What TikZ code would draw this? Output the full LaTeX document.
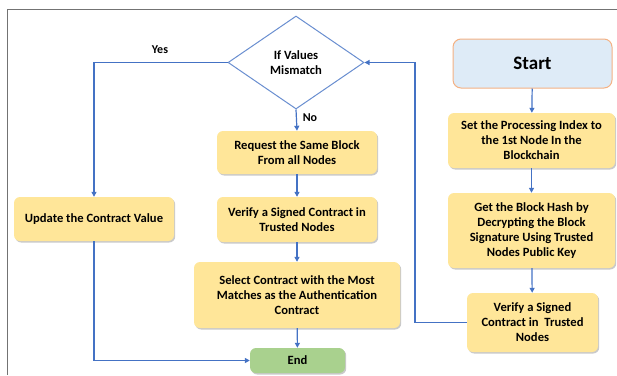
\documentclass[tikz,border=0pt]{standalone}
\usepackage{fontspec}
\setmainfont{Carlito}
\usetikzlibrary{shapes.geometric,arrows.meta,shadows}
\definecolor{ln}{HTML}{4472C4}
\definecolor{yel}{HTML}{FFE699}
\definecolor{stf}{HTML}{DEEBF7}
\definecolor{stb}{HTML}{F4B183}
\definecolor{grn}{HTML}{A9D18E}
\begin{document}
\begin{tikzpicture}[x=1pt,y=-1pt,
  box/.style={rectangle,rounded corners=6pt,fill=yel,align=center,inner sep=1pt,
    font=\fontsize{12.6}{15}\selectfont\bfseries,
    drop shadow={shadow xshift=1.2pt,shadow yshift=-1.5pt,opacity=0.35,fill=black!60}},
  conn/.style={draw=ln,line width=1.2pt},
  arr/.style={conn,-{Triangle[length=5pt,width=5pt]}},
  lbl/.style={font=\fontsize{12}{14}\selectfont\bfseries}]
\useasboundingbox (0,0) rectangle (617,375);
\draw[black!55,line width=1.4pt] (7.5,375) -- (7.5,9.5) -- (617,9.5);
% nodes
\node[shape=diamond,draw=ln!80,fill=white,line width=1pt,minimum width=136pt,minimum height=93pt,inner sep=0pt,aspect=1.46,align=center,font=\fontsize{12.6}{15}\selectfont\bfseries] (dia) at (296,62.5) {If Values\\Mismatch};
\node[box,minimum width=160pt,minimum height=44pt] (upd) at (94,219) {Update the Contract Value};
\node[box,minimum width=160pt,minimum height=43pt] (req) at (297,152.5) {Request the Same Block\\From all Nodes};
\node[box,minimum width=160pt,minimum height=45pt] (vm) at (297,219.5) {Verify a Signed Contract in\\Trusted Nodes};
\node[box,minimum width=206pt,minimum height=66pt] (sel) at (297,295) {Select Contract with the Most\\Matches as the Authentication\\Contract};
\node[box,fill=grn,minimum width=95pt,minimum height=25pt] (end) at (297.5,360.5) {End};
\node[rectangle,rounded corners=8pt,fill=stf,draw=stb,line width=1pt,minimum width=159pt,minimum height=49pt,font=\fontsize{19}{22}\selectfont\bfseries] (start) at (532.5,63.5) {Start};
\node[box,minimum width=167pt,minimum height=55pt] (set) at (531.5,140.5) {Set the Processing Index to\\the 1st Node In the\\Blockchain};
\node[box,minimum width=167pt,minimum height=75pt] (get) at (531.5,230.5) {Get the Block Hash by\\Decrypting the Block\\Signature Using Trusted\\Nodes Public Key};
\node[box,minimum width=131pt,minimum height=59pt] (vr) at (532.5,322.5) {Verify a Signed\\Contract in\ \ Trusted\\Nodes};
\coordinate (c1) at (415,322.5);
\coordinate (c2) at (415,62.5);
% connectors
\draw[arr] (start) -- (set);
\draw[arr] (set) -- (get);
\draw[arr] (get) -- (vr);
\draw[arr] (vr.west) -- (c1) -- (c2) -- (dia.east);
\draw[arr] (dia.west) -| (upd.north);
\draw[arr] (dia.south) -- (req.north);
\draw[arr] (req) -- (vm);
\draw[arr] (vm) -- (sel);
\draw[arr] (sel) -- (end);
\draw[arr] (upd.south) |- (end.west);
\node[lbl] (yes) at (160,50) {Yes};
\node[lbl] (no) at (310,118) {No};
\end{tikzpicture}
\end{document}
